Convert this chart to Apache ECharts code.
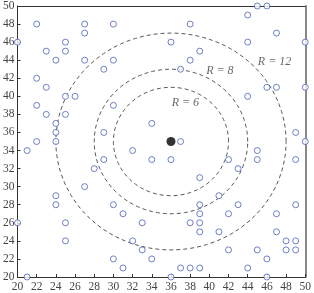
<!DOCTYPE html>
<html><head><meta charset="utf-8">
<script src="https://cdn.jsdelivr.net/npm/echarts@6/dist/echarts.min.js"></script>
<style>html,body{margin:0;padding:0;background:#fff}#c{width:314px;height:293px}</style>
</head><body><div id="c"></div>
<script>
const pointsX = [20,22,27,30,27,23,25,25,24,27,30,29,22,23,25,26,22,23,25,30,24,24,29,24,22,34,32,
  21,34,29,28,27,24,24,30,31,20,25,33,25,32,33,30,34,31,21,
  45,46,44,38,47,50,36,44,39,38,37,46,47,50,44,49,50,37,45,
  36,42,45,49,43,39,41,43,39,49,39,42,47,38,39,39,41,47,48,49,42,45,48,49,46,37,38,39,44,36,46];
const pointsY = [46,48,48,48,47,45,46,45,44,44,44,43,42,41,40,40,39,38,38,39,37,36,36,35,35,37,34,
  34,33,33,32,30,29,28,28,27,26,26,26,24,24,23,22,22,21,20,
  50,50,49,48,47,46,46,46,45,44,43,41,41,41,40,36,35,35,34,
  33,33,33,33,32,31,29,28,28,28,27,27,27,26,26,25,25,25,24,24,23,23,23,23,22,21,21,21,21,20,20];
const centerPoint = [36, 35];
const radii = [6, 8, 12];
const radiusLabels = ['R = 6', 'R = 8', 'R = 12'];
const labelX = [37.5, 41.1, 46.8];
const labelY = [39.3, 42.8, 43.85];
const tickValues = [20,22,24,26,28,30,32,34,36,38,40,42,44,46,48,50];

const scatterData = pointsX.map((x, i) => [x, pointsY[i]]);
const circleData = radii.map(r => [centerPoint[0], centerPoint[1], r]);
const labelData = radiusLabels.map((t, i) => ({value: [labelX[i], labelY[i]], name: t}));

const serif = '"Liberation Serif", "DejaVu Serif", serif';
const chart = echarts.init(document.getElementById('c'), null, {renderer: 'canvas'});
const axisLabel = {color: '#444', fontFamily: serif, fontSize: 11.5};
chart.setOption({
  animation: false,
  grid: {left: 17, right: 6, top: 5, bottom: 15, containLabel: false},
  xAxis: [{
    type: 'value', min: 20, max: 50, interval: 2,
    axisLine: {show: true, onZero: false, lineStyle: {color: '#333', width: 1}},
    axisTick: {show: true, inside: true, length: 3, lineStyle: {color: '#333'}},
    axisLabel: Object.assign({margin: 4}, axisLabel),
    splitLine: {show: false}
  }, {
    type: 'value', min: 20, max: 50, position: 'top',
    axisLine: {show: true, onZero: false, lineStyle: {color: '#333', width: 1}},
    axisTick: {show: false}, axisLabel: {show: false}, splitLine: {show: false}
  }],
  yAxis: [{
    type: 'value', min: 20, max: 50, interval: 2,
    axisLine: {show: true, onZero: false, lineStyle: {color: '#333', width: 1}},
    axisTick: {show: true, inside: true, length: 3, lineStyle: {color: '#333'}},
    axisLabel: Object.assign({margin: 3}, axisLabel),
    splitLine: {show: false}
  }, {
    type: 'value', min: 20, max: 50, position: 'right',
    axisLine: {show: true, onZero: false, lineStyle: {color: '#888', width: 2}},
    axisTick: {show: false}, axisLabel: {show: false}, splitLine: {show: false}
  }],
  series: [
    {
      type: 'custom',
      data: circleData,
      clip: false,
      z: 1,
      renderItem: function (params, api) {
        const cx = api.value(0), cy = api.value(1), r = api.value(2);
        const pts = [];
        for (let k = 0; k <= 180; k++) {
          const a = k / 180 * Math.PI * 2;
          pts.push(api.coord([cx + r * Math.cos(a), cy + r * Math.sin(a)]));
        }
        return {
          type: 'polyline',
          shape: {points: pts},
          style: {stroke: '#555', fill: null, lineWidth: 1, lineDash: [4, 3]}
        };
      }
    },
    {
      type: 'scatter',
      data: scatterData,
      symbol: 'circle',
      symbolSize: 6,
      z: 3,
      itemStyle: {color: '#fff', borderColor: '#4a62b8', borderWidth: 1},
      emphasis: {disabled: true}
    },
    {
      type: 'scatter',
      data: [centerPoint],
      symbol: 'circle',
      symbolSize: 9,
      z: 4,
      itemStyle: {color: '#000'}
    },
    {
      type: 'scatter',
      data: labelData,
      symbolSize: 0,
      z: 5,
      label: {
        show: true, position: 'inside', formatter: '{b}',
        color: '#444', fontFamily: serif, fontStyle: 'italic', fontSize: 12
      }
    }
  ]
});
</script>
</body></html>
